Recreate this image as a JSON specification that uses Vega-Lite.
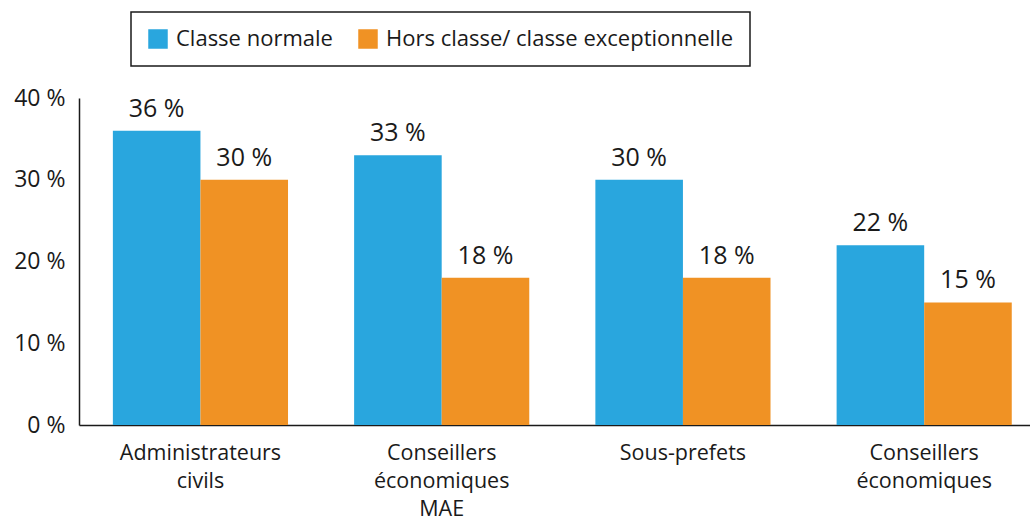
{
  "$schema": "https://vega.github.io/schema/vega-lite/v6.json",
  "width": 951,
  "height": 327,
  "autosize": {"type": "none"},
  "padding": {"left": 79, "top": 98, "right": 0, "bottom": 99},
  "config": {"view": {"stroke": null}, "font": "Open Sans"},
  "data": {
    "values": [
      {"poste": "Administrateurs civils", "classe": "Classe normale", "valeur": 36},
      {"poste": "Administrateurs civils", "classe": "Hors classe/ classe exceptionnelle", "valeur": 30},
      {"poste": "Conseillers économiques MAE", "classe": "Classe normale", "valeur": 33},
      {"poste": "Conseillers économiques MAE", "classe": "Hors classe/ classe exceptionnelle", "valeur": 18},
      {"poste": "Sous-prefets", "classe": "Classe normale", "valeur": 30},
      {"poste": "Sous-prefets", "classe": "Hors classe/ classe exceptionnelle", "valeur": 18},
      {"poste": "Conseillers économiques", "classe": "Classe normale", "valeur": 22},
      {"poste": "Conseillers économiques", "classe": "Hors classe/ classe exceptionnelle", "valeur": 15}
    ]
  },
  "encoding": {
    "x": {
      "field": "poste",
      "type": "nominal",
      "sort": ["Administrateurs civils", "Conseillers économiques MAE", "Sous-prefets", "Conseillers économiques"],
      "scale": {"paddingInner": 0.274, "paddingOuter": 0.108, "align": 0.65},
      "axis": {
        "title": null,
        "labelAngle": 0,
        "ticks": false,
        "domainColor": "#1a1a1a",
        "domainWidth": 1.5,
        "labelFontSize": 21.5,
        "labelColor": "#1a1a1a",
        "labelPadding": 28,
        "labelLineHeight": 28,
        "labelBaseline": "middle",
        "labelLimit": 300,
        "labelExpr": "datum.value == 'Administrateurs civils' ? ['Administrateurs', 'civils'] : datum.value == 'Conseillers économiques MAE' ? ['Conseillers', 'économiques', 'MAE'] : datum.value == 'Conseillers économiques' ? ['Conseillers', 'économiques'] : datum.value"
      }
    },
    "xOffset": {
      "field": "classe",
      "type": "nominal",
      "sort": ["Classe normale", "Hors classe/ classe exceptionnelle"],
      "scale": {"paddingInner": 0, "paddingOuter": 0}
    },
    "y": {
      "field": "valeur",
      "type": "quantitative",
      "scale": {"domain": [0, 40], "nice": false},
      "axis": {
        "title": null,
        "values": [0, 10, 20, 30, 40],
        "grid": false,
        "ticks": false,
        "domainColor": "#1a1a1a",
        "domainWidth": 1.5,
        "labelFontSize": 23,
        "labelColor": "#1a1a1a",
        "labelPadding": 14,
        "labelBaseline": "middle",
        "labelDy": -4,
        "labelExpr": "datum.value + ' %'"
      }
    }
  },
  "layer": [
    {
      "mark": {"type": "bar"},
      "encoding": {
        "color": {
          "field": "classe",
          "type": "nominal",
          "sort": ["Classe normale", "Hors classe/ classe exceptionnelle"],
          "scale": {"domain": ["Classe normale", "Hors classe/ classe exceptionnelle"], "range": ["#29a6de", "#f09224"]},
          "legend": {
            "title": null,
            "orient": "none",
            "legendX": 52,
            "legendY": -86,
            "direction": "horizontal",
            "strokeColor": "#1a1a1a",
            "fillColor": "white",
            "padding": 16,
            "symbolType": "square",
            "symbolSize": 380,
            "symbolStrokeWidth": 0,
            "symbolOpacity": 1,
            "labelFontSize": 22,
            "labelColor": "#1a1a1a",
            "labelOffset": 7,
            "labelLimit": 500,
            "columnPadding": 24,
            "encode": {"legend": {"update": {"strokeWidth": {"value": 1.5}}}}
          }
        }
      }
    },
    {
      "mark": {
        "type": "text",
        "baseline": "bottom",
        "dy": -9,
        "fontSize": 25,
        "color": "#1a1a1a",
        "text": {"expr": "datum.valeur + ' %'"}
      },
      "encoding": {}
    }
  ]
}
